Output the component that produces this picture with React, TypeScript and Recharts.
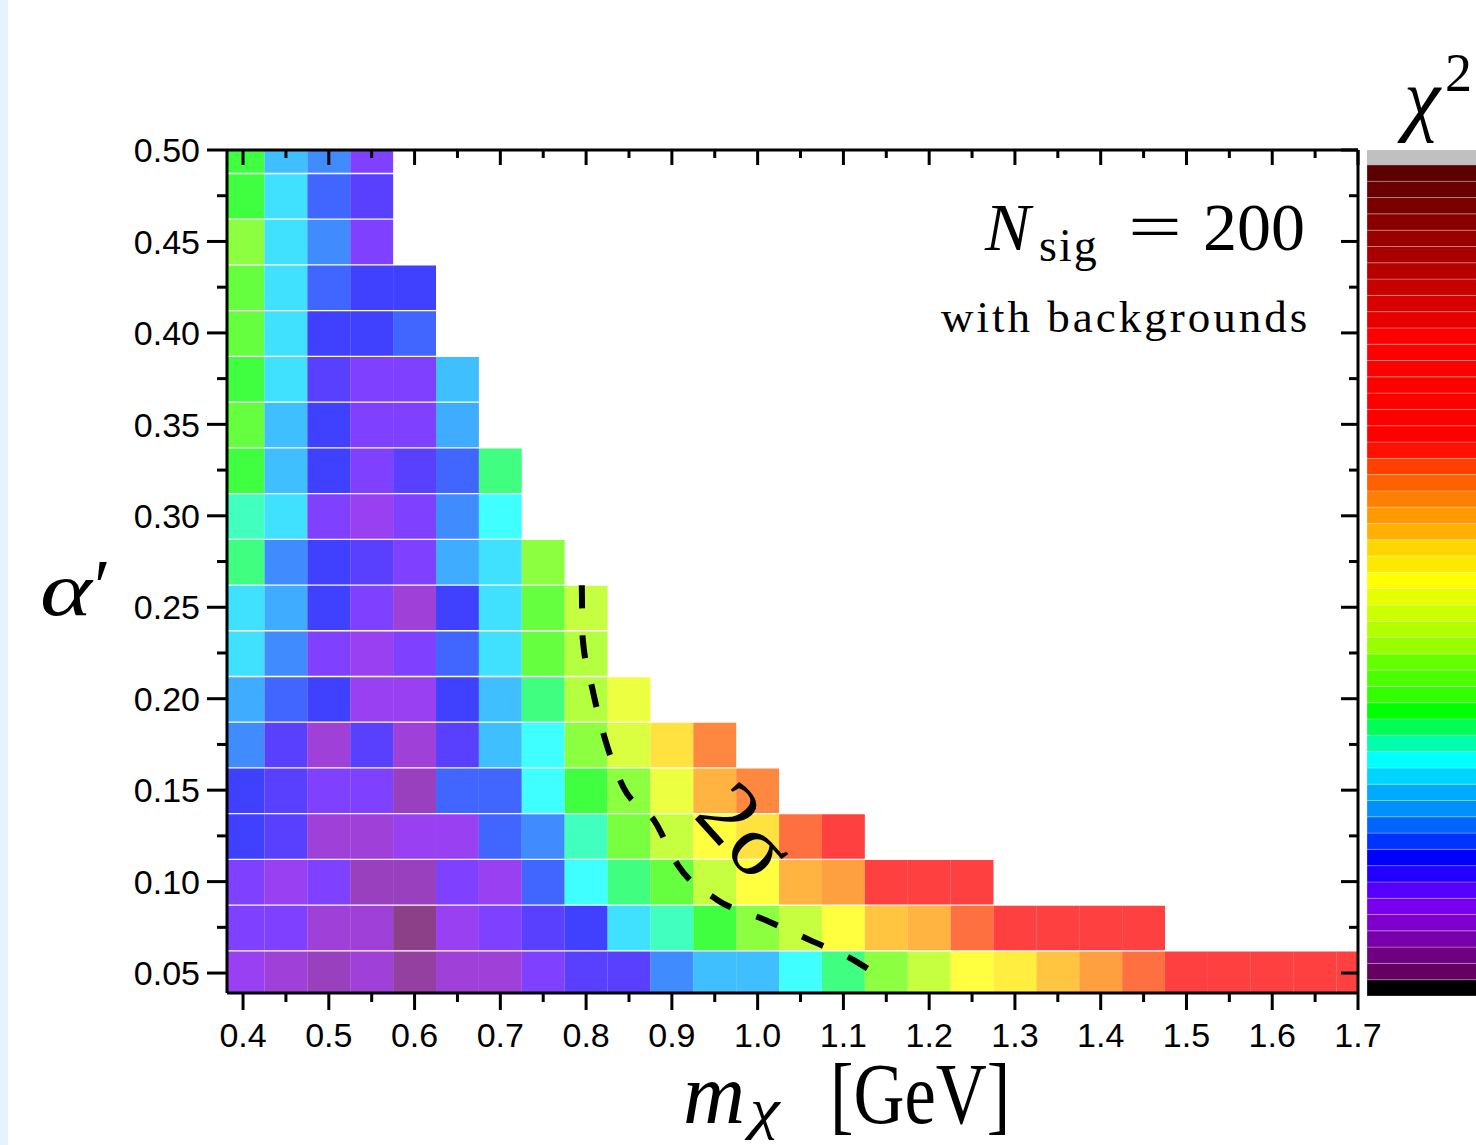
import React from "react";
import {
  ComposedChart,
  XAxis,
  YAxis,
  ReferenceArea,
  ReferenceDot,
  Line,
  BarChart,
  Bar,
} from "recharts";

// cell centres
const massValues = [
  0.4, 0.45, 0.5, 0.55, 0.6, 0.65, 0.7, 0.75, 0.8, 0.85, 0.9, 0.95, 1.0, 1.05,
  1.1, 1.15, 1.2, 1.25, 1.3, 1.35, 1.4, 1.45, 1.5, 1.55, 1.6, 1.65, 1.7,
];
// top row first
const alphaRows = [
  0.5, 0.475, 0.45, 0.425, 0.4, 0.375, 0.35, 0.325, 0.3, 0.275, 0.25, 0.225,
  0.2, 0.175, 0.15, 0.125, 0.1, 0.075, 0.05,
];

// chi^2 colour level of each cell (index into levelColors), one list per alpha row
const chi2Levels: number[][] = [
  [17, 12, 10, 6],
  [17, 13, 9, 7],
  [20, 13, 10, 6],
  [18, 13, 9, 8, 8],
  [18, 13, 8, 8, 9],
  [17, 13, 7, 6, 6, 12],
  [18, 12, 8, 6, 6, 11],
  [17, 12, 8, 6, 7, 9, 16],
  [15, 13, 6, 5, 6, 10, 14],
  [16, 10, 8, 7, 6, 11, 13, 20],
  [13, 11, 8, 6, 4, 8, 13, 18, 22],
  [13, 10, 6, 5, 6, 9, 13, 18, 21],
  [11, 9, 8, 5, 5, 8, 12, 16, 21, 24],
  [10, 7, 4, 7, 4, 7, 12, 14, 20, 23, 27, 31],
  [8, 7, 6, 6, 3, 9, 9, 14, 17, 20, 24, 29, 31],
  [8, 7, 4, 4, 5, 5, 9, 10, 15, 19, 22, 25, 27, 32, 35],
  [6, 5, 6, 3, 3, 6, 5, 9, 14, 16, 18, 22, 25, 29, 30, 35, 35, 35],
  [6, 6, 4, 4, 1, 5, 6, 7, 8, 13, 15, 17, 20, 22, 25, 28, 29, 32, 35, 35, 35, 35],
  [5, 4, 3, 4, 2, 4, 4, 6, 7, 7, 10, 12, 12, 14, 16, 20, 22, 25, 26, 28, 30, 32, 35, 35, 35, 35, 35],
];

// colour bar, bottom to top
const levelColors = [
  "#000000", "#660060", "#700080", "#7700aa", "#7f00cc", "#7700ee", "#5500ff",
  "#2200ff", "#0000ff", "#0033ff", "#0066ff", "#0090ff", "#00aaff", "#00d5ff",
  "#00ffff", "#00ffaa", "#00ff55", "#00ff00", "#33ff00", "#4cff00", "#66ff00",
  "#99ff00", "#b2ff00", "#ccff00", "#e5ff00", "#ffff00", "#ffe800", "#ffd700",
  "#ffb000", "#ff9900", "#ff8000", "#ff6000", "#ff4000", "#ff1000", "#ff0000",
  "#ff0000", "#ff0000", "#ff0000", "#ff0000", "#ff0000", "#ff0000", "#e80000",
  "#d80000", "#c80000", "#b80000", "#a80000", "#990000", "#8a0000", "#7a0000",
  "#6a0000", "#5a0000",
];
const overflowColor = "#c0c0c0";

// 2 sigma contour
const contour = [
  { x: 0.795, y: 0.262 },
  { x: 0.796, y: 0.233 },
  { x: 0.807, y: 0.206 },
  { x: 0.822, y: 0.178 },
  { x: 0.843, y: 0.152 },
  { x: 0.88, y: 0.133 },
  { x: 0.907, y: 0.109 },
  { x: 0.953, y: 0.09 },
  { x: 1.009, y: 0.079 },
  { x: 1.061, y: 0.068 },
  { x: 1.116, y: 0.056 },
  { x: 1.142, y: 0.048 },
];

const massMajorTicks = [0.4, 0.5, 0.6, 0.7, 0.8, 0.9, 1.0, 1.1, 1.2, 1.3, 1.4, 1.5, 1.6, 1.7];
const massMinorTicks = [0.45, 0.55, 0.65, 0.75, 0.85, 0.95, 1.05, 1.15, 1.25, 1.35, 1.45, 1.55, 1.65];
const alphaMajorTicks = [0.05, 0.1, 0.15, 0.2, 0.25, 0.3, 0.35, 0.4, 0.45, 0.5];
const alphaMinorTicks = [0.075, 0.125, 0.175, 0.225, 0.275, 0.325, 0.375, 0.425, 0.475];

const X_DOMAIN: [number, number] = [0.3813, 1.7];
const Y_DOMAIN: [number, number] = [0.0391, 0.5];
const CELL_W = 0.05;
const CELL_H = 0.025;

const SANS = "'Liberation Sans', Arial, sans-serif";
const SERIF = "'Liberation Serif', 'Times New Roman', serif";

const isMajor = (v: number, majors: number[]) =>
  majors.some((m) => Math.abs(m - v) < 1e-6);

const massTicks = [...massMajorTicks, ...massMinorTicks].sort((a, b) => a - b);
const alphaTicks = [...alphaMajorTicks, ...alphaMinorTicks].sort((a, b) => a - b);

function LeftTick(props: any) {
  const { x, y, payload } = props;
  const major = isMajor(payload.value, alphaMajorTicks);
  return (
    <g>
      <line x1={x - (major ? 20 : 10)} x2={x} y1={y} y2={y} stroke="#000" strokeWidth={3} />
      {major && (
        <text x={x - 27} y={y} dy="0.36em" textAnchor="end" fontFamily={SANS} fontSize={34} fill="#000">
          {payload.value.toFixed(2)}
        </text>
      )}
    </g>
  );
}

function RightTick(props: any) {
  const { x, y, payload } = props;
  const major = isMajor(payload.value, alphaMajorTicks);
  return <line x1={x - (major ? 17 : 9)} x2={x} y1={y} y2={y} stroke="#000" strokeWidth={3} />;
}

function BottomTick(props: any) {
  const { x, y, payload } = props;
  const major = isMajor(payload.value, massMajorTicks);
  return (
    <g>
      <line x1={x} x2={x} y1={y} y2={y + (major ? 17 : 9)} stroke="#000" strokeWidth={3} />
      {major && (
        <text x={x} y={y + 54} textAnchor="middle" fontFamily={SANS} fontSize={34} fill="#000">
          {payload.value.toFixed(1)}
        </text>
      )}
    </g>
  );
}

function TopTick(props: any) {
  const { x, y, payload } = props;
  const major = isMajor(payload.value, massMajorTicks);
  return <line x1={x} x2={x} y1={y} y2={y + (major ? 15 : 8)} stroke="#000" strokeWidth={3} />;
}

function SigmaLabel(props: any) {
  const { cx, cy } = props;
  return (
    <text
      x={cx}
      y={cy}
      dy="0.35em"
      textAnchor="middle"
      transform={`rotate(48 ${cx} ${cy})`}
      fontFamily={SERIF}
      fontSize={90}
      fill="#000"
    >
      2σ
    </text>
  );
}

// absolutely placed text, positioned by its baseline
const abs = (left: number, baseline: number, size: number, sx = 1): React.CSSProperties => ({
  position: "absolute",
  left,
  top: baseline - 0.7375 * size,
  fontSize: size,
  lineHeight: `${0.8 * size}px`,
  fontFamily: SERIF,
  color: "#000",
  whiteSpace: "nowrap",
  transform: sx !== 1 ? `scaleX(${sx})` : undefined,
  transformOrigin: "left center",
});

export default function App() {
  const cells: React.ReactElement[] = [];
  chi2Levels.forEach((row, r) => {
    const a = alphaRows[r];
    row.forEach((lvl, c) => {
      const m = massValues[c];
      const color = levelColors[lvl];
      cells.push(
        <ReferenceArea
          key={`cell-${r}-${c}`}
          x1={Math.max(m - CELL_W / 2, X_DOMAIN[0])}
          x2={Math.min(m + CELL_W / 2, X_DOMAIN[1])}
          y1={Math.max(a - CELL_H / 2, Y_DOMAIN[0])}
          y2={Math.min(a + CELL_H / 2 - 0.0007, Y_DOMAIN[1])}
          fill={color}
          fillOpacity={0.75}
          stroke="none"
          ifOverflow="visible"
        />
      );
    });
  });

  const barRow: Record<string, number | string> = { name: "chi2" };
  levelColors.forEach((_, i) => {
    barRow[`l${i}`] = 1;
  });
  barRow.over = 0.92;

  return (
    <div
      style={{
        position: "absolute",
        left: 0,
        top: 0,
        width: 1476,
        height: 1145,
        overflow: "hidden",
        background: "#fff",
      }}
    >
      <div style={{ position: "absolute", left: 0, top: 0, width: 8, height: 1145, background: "#e6f2fd" }} />

      <div style={{ position: "absolute", left: 0, top: 0 }}>
        <ComposedChart
          width={1476}
          height={1145}
          margin={{ top: 130, right: 98, bottom: 92, left: 0 }}
        >
          <XAxis
            xAxisId={0}
            dataKey="x"
            type="number"
            domain={X_DOMAIN}
            allowDataOverflow
            ticks={massTicks}
            interval={0}
            tickSize={0}
            tickMargin={0}
            tickLine={false}
            tick={BottomTick}
            axisLine={{ stroke: "#000", strokeWidth: 3 }}
            height={60}
          />
          <XAxis
            xAxisId="top"
            orientation="top"
            dataKey="x"
            type="number"
            domain={X_DOMAIN}
            allowDataOverflow
            ticks={massTicks}
            interval={0}
            tickSize={0}
            tickMargin={0}
            tickLine={false}
            tick={TopTick}
            axisLine={{ stroke: "#000", strokeWidth: 3 }}
            height={20}
          />
          <YAxis
            yAxisId={0}
            type="number"
            domain={Y_DOMAIN}
            allowDataOverflow
            ticks={alphaTicks}
            interval={0}
            tickSize={0}
            tickMargin={0}
            tickLine={false}
            tick={LeftTick}
            axisLine={{ stroke: "#000", strokeWidth: 3 }}
            width={227}
          />
          <YAxis
            yAxisId="right"
            orientation="right"
            type="number"
            domain={Y_DOMAIN}
            allowDataOverflow
            ticks={alphaTicks}
            interval={0}
            tickSize={0}
            tickMargin={0}
            tickLine={false}
            tick={RightTick}
            axisLine={{ stroke: "#000", strokeWidth: 3 }}
            width={20}
          />
          {cells}
          <Line
            data={contour}
            dataKey="y"
            type="monotone"
            stroke="#000"
            strokeWidth={6}
            strokeDasharray="23 27"
            dot={false}
            activeDot={false}
            isAnimationActive={false}
          />
          <ReferenceDot x={0.9876} y={0.1282} r={0} shape={SigmaLabel} ifOverflow="visible" />
        </ComposedChart>
      </div>

      {/* colour bar */}
      <div style={{ position: "absolute", left: 1367, top: 150 }}>
        <BarChart
          width={130}
          height={846}
          data={[barRow]}
          margin={{ top: 0, right: 0, bottom: 0, left: 0 }}
          barCategoryGap={0}
        >
          <XAxis dataKey="name" hide />
          <YAxis type="number" domain={[0, levelColors.length + 0.92]} hide allowDataOverflow />
          {levelColors.map((col, i) => (
            <Bar
              key={`l${i}`}
              dataKey={`l${i}`}
              stackId="cb"
              fill={col}
              stroke="#ffffff"
              strokeOpacity={0.25}
              strokeWidth={1}
              isAnimationActive={false}
            />
          ))}
          <Bar dataKey="over" stackId="cb" fill={overflowColor} isAnimationActive={false} />
        </BarChart>
      </div>

      {/* annotations */}
      <div style={{ ...abs(985, 250, 68), fontStyle: "italic" }}>N</div>
      <div style={{ ...abs(1039, 262, 46), letterSpacing: 2 }}>sig</div>
      <div style={abs(1128, 250, 66, 1.45)}>=</div>
      <div style={abs(1203, 250, 68)}>200</div>
      <div style={{ ...abs(941, 332, 45), letterSpacing: 3 }}>with backgrounds</div>

      <div style={{ ...abs(40, 615, 76, 1.3), fontStyle: "italic" }}>α</div>
      <div style={abs(94, 612, 76)}>′</div>

      <div style={{ ...abs(683, 1123, 86), fontStyle: "italic" }}>m</div>
      <div style={{ ...abs(750, 1128, 56, 1.2), fontStyle: "italic" }}>χ</div>
      <div style={abs(830, 1123, 86, 0.82)}>[GeV]</div>

      <div style={{ ...abs(1404, 125, 82), fontStyle: "italic" }}>χ</div>
      <div style={abs(1445, 92, 54)}>2</div>
    </div>
  );
}
